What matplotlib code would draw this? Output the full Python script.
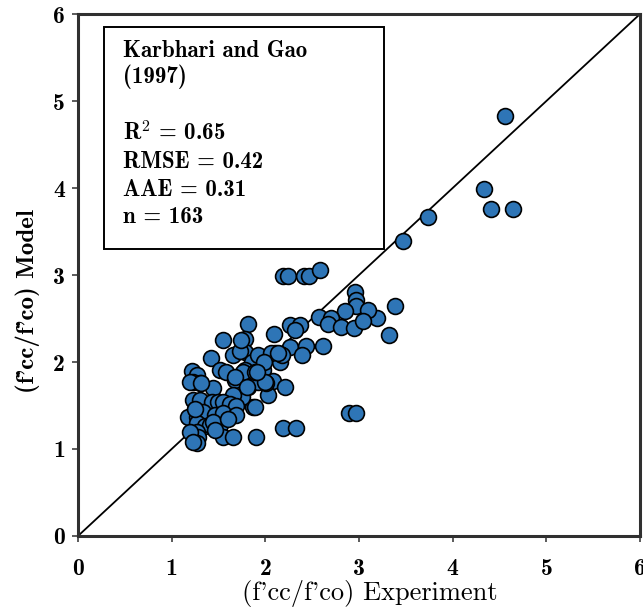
import matplotlib

matplotlib.use("Agg")
import matplotlib.pyplot as plt  # noqa: E402
from matplotlib.patches import Rectangle  # noqa: E402

# confinement ratio f'cc/f'co: experiment vs. Karbhari & Gao (1997) model
experiment = [
    4.56, 4.33, 4.41, 4.64, 3.74, 3.47, 3.38, 3.32, 3.19,
    2.19, 2.24, 2.41, 2.47, 2.58, 2.96, 2.97, 2.97, 2.85, 3.10,
    2.57, 2.70, 2.67, 2.81, 2.95, 3.04, 2.26, 2.37, 2.32, 2.09,
    2.26, 2.43, 2.39, 2.62, 2.08, 2.16, 1.98, 2.08, 2.21, 2.03,
    2.01, 2.89, 2.97, 2.19, 2.33, 1.90, 1.87, 1.81, 1.55, 1.78,
    1.42, 1.65, 1.78, 1.86, 1.92, 1.73, 1.22, 1.27, 1.52, 1.58,
    1.78, 1.23, 1.30, 1.44, 1.68, 1.81, 1.92, 1.75, 1.65, 1.23,
    1.30, 1.43, 1.49, 1.55, 1.62, 1.69, 1.17, 1.27, 1.33, 1.46,
    1.55, 1.69, 1.27, 1.36, 1.41, 1.52, 1.27, 1.28, 1.55, 1.65,
    1.27, 1.20, 1.25, 1.44, 1.60, 1.20, 1.23, 1.46, 1.74, 2.10,
    2.16, 1.76, 1.89, 2.00, 2.18, 2.06, 2.14, 1.99, 1.68, 1.80,
    1.91, 1.89, 1.31,
]
model = [
    4.83, 3.99, 3.76, 3.76, 3.67, 3.39, 2.64, 2.31, 2.51,
    2.99, 2.99, 2.99, 2.99, 3.06, 2.80, 2.71, 2.64, 2.59, 2.60,
    2.52, 2.51, 2.44, 2.40, 2.39, 2.47, 2.43, 2.43, 2.37, 2.32,
    2.17, 2.18, 2.08, 2.18, 2.08, 2.09, 1.91, 1.78, 1.71, 1.62,
    1.76, 1.41, 1.41, 1.24, 1.24, 1.14, 1.48, 2.44, 2.25, 2.26,
    2.05, 2.08, 2.11, 2.00, 2.08, 2.13, 1.90, 1.85, 1.91, 1.89,
    1.91, 1.77, 1.76, 1.70, 1.79, 1.71, 1.77, 1.60, 1.62, 1.56,
    1.56, 1.54, 1.54, 1.54, 1.52, 1.49, 1.37, 1.37, 1.43, 1.39,
    1.41, 1.39, 1.30, 1.26, 1.28, 1.28, 1.20, 1.14, 1.14, 1.14,
    1.07, 1.77, 1.46, 1.31, 1.34, 1.20, 1.08, 1.22, 2.25, 2.10,
    2.00, 1.89, 1.89, 1.77, 2.08, 2.10, 2.10, 2.00, 1.83, 1.71,
    1.89, 1.48, 1.76,
]

stats_title = ["Karbhari and Gao", "(1997)"]
stats_lines = ["R$^{\\mathbf{2}}$ = 0.65", "RMSE = 0.42", "AAE = 0.31", "n = 163"]
ticks = [0, 1, 2, 3, 4, 5, 6]

plt.rcParams.update({
    "font.family": "cmb10",
    "mathtext.fontset": "cm",
    "axes.unicode_minus": False,
})

fig = plt.figure(figsize=(6.43, 6.09), dpi=100)
ax = fig.add_axes([0.1213, 0.1199, 0.874, 0.857])

ax.plot([0, 6], [0, 6], color="black", lw=1.3, zorder=1)
ax.scatter(experiment, model, s=130, color="#2E75B6", edgecolor="black",
           linewidth=1.2, zorder=2)

# statistics box
ax.add_patch(Rectangle((0.28, 3.30), 2.99, 2.55, facecolor="white",
                       edgecolor="black", lw=1.4, zorder=3))
for text, y in zip(stats_title, (5.51, 5.21)):
    ax.text(0.48, y, text, fontsize=16.5, va="baseline", zorder=4)
for text, y in zip(stats_lines, (4.55, 4.23, 3.91, 3.60)):
    ax.text(0.48, y, text, fontsize=16.5, va="baseline", zorder=4)

ax.set_xlim(0, 6)
ax.set_ylim(0, 6)
ax.set_xticks(ticks)
ax.set_yticks(ticks)
ax.set_xticklabels([str(t) for t in ticks], fontsize=17)
ax.set_yticklabels([str(t) for t in ticks], fontsize=17)
ax.tick_params(direction="out", length=4.5, width=1.2, color="#404040")
ax.tick_params(axis="x", pad=11)
ax.tick_params(axis="y", pad=5)
for spine in ax.spines.values():
    spine.set_linewidth(2.2)
    spine.set_color("#303030")

ax.set_xlabel("(f'cc/f'co) Experiment", fontsize=19, family="cmr10")
ax.set_ylabel("(f'cc/f'co) Model", fontsize=18)
ax.xaxis.set_label_coords(0.52, -0.085, transform=ax.transAxes)
ax.yaxis.set_label_coords(-0.068, 0.45, transform=ax.transAxes)

fig.savefig("out.png")
